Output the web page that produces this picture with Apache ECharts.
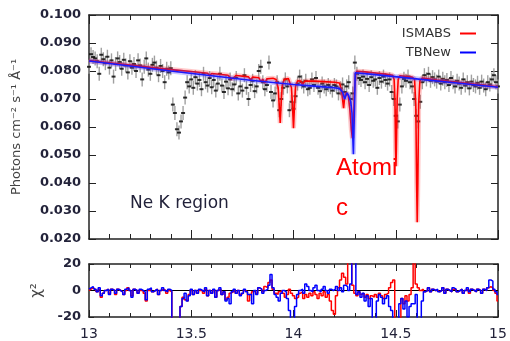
<!DOCTYPE html>
<html><head><meta charset="utf-8">
<script src="https://cdn.jsdelivr.net/npm/echarts@6/dist/echarts.min.js"></script>
<style>html,body{margin:0;padding:0;background:#fff}#c{width:510px;height:341px}</style>
</head><body><div id="c"></div>
<script>
// ---- data ----
const binStart = 13.00, binStep = 0.01;
const obsFlux = [
0.0815,0.0860,0.0850,0.0845,0.0835,0.0790,0.0858,0.0842,0.0828,0.0851,
0.0812,0.0838,0.0780,0.0825,0.0845,0.0832,0.0808,0.0840,0.0820,0.0795,
0.0835,0.0812,0.0825,0.0800,0.0838,0.0820,0.0770,0.0815,0.0845,0.0805,
0.0790,0.0822,0.0830,0.0812,0.0785,0.0818,0.0800,0.0760,0.0808,0.0795,
0.0810,0.0680,0.0650,0.0592,0.0580,0.0620,0.0650,0.0705,0.0760,0.0745,
0.0770,0.0740,0.0778,0.0755,0.0768,0.0735,0.0790,0.0760,0.0748,0.0775,
0.0742,0.0768,0.0730,0.0755,0.0790,0.0748,0.0725,0.0762,0.0738,0.0770,
0.0735,0.0752,0.0775,0.0720,0.0745,0.0730,0.0785,0.0740,0.0700,0.0750,
0.0765,0.0728,0.0745,0.0800,0.0815,0.0760,0.0735,0.0750,0.0830,0.0725,
0.0695,0.0720,0.0760,0.0660,0.0700,0.0740,0.0770,0.0745,0.0660,0.0690,
0.0665,0.0710,0.0755,0.0780,0.0760,0.0745,0.0765,0.0735,0.0740,0.0770,
0.0750,0.0775,0.0740,0.0728,0.0755,0.0745,0.0735,0.0750,0.0742,0.0730,
0.0750,0.0745,0.0720,0.0738,0.0752,0.0725,0.0745,0.0760,0.0700,0.0720,
0.0830,0.0790,0.0775,0.0768,0.0780,0.0760,0.0772,0.0750,0.0778,0.0765,
0.0770,0.0740,0.0775,0.0762,0.0780,0.0768,0.0755,0.0770,0.0725,0.0700,
0.0640,0.0620,0.0680,0.0745,0.0772,0.0765,0.0780,0.0760,0.0745,0.0700,
0.0640,0.0620,0.0690,0.0760,0.0785,0.0770,0.0790,0.0765,0.0778,0.0770,
0.0762,0.0780,0.0755,0.0772,0.0760,0.0768,0.0750,0.0775,0.0760,0.0745,
0.0765,0.0755,0.0740,0.0770,0.0748,0.0760,0.0738,0.0762,0.0750,0.0745,
0.0758,0.0740,0.0762,0.0748,0.0735,0.0760,0.0752,0.0770,0.0785,0.0760,
0.0745];
const obsErr = 0.0025;

const ismabsX = [13.00,13.10,13.20,13.30,13.40,13.50,13.58,13.59,13.60,13.68,13.695,13.70,13.705,13.72,13.78,13.79,13.80,13.83,13.84,13.85,13.86,13.87,13.90,13.915,13.925,13.93,13.935,13.94,13.945,13.955,13.975,13.99,13.995,14.00,14.005,14.01,14.02,14.035,14.045,14.055,14.10,14.15,14.20,14.225,14.235,14.245,14.25,14.258,14.268,14.276,14.283,14.288,14.293,14.298,14.303,14.31,14.35,14.40,14.45,14.485,14.492,14.496,14.499,14.501,14.503,14.507,14.512,14.52,14.58,14.592,14.598,14.602,14.605,14.608,14.612,14.618,14.63,14.70,14.80,14.90,15.00];
const ismabsY = [0.0837,0.0829,0.0821,0.0813,0.0805,0.0798,0.0792,0.0783,0.0791,0.0785,0.0772,0.0765,0.0775,0.0784,0.0779,0.0768,0.0778,0.0776,0.0762,0.0770,0.0758,0.0772,0.0774,0.0770,0.0740,0.0680,0.0614,0.0690,0.0750,0.0770,0.0773,0.0740,0.0680,0.0596,0.0680,0.0745,0.0765,0.0764,0.0752,0.0764,0.0764,0.0762,0.0760,0.0757,0.0730,0.0667,0.0705,0.0722,0.0712,0.0660,0.0590,0.0560,0.0620,0.0720,0.0790,0.0799,0.0797,0.0793,0.0789,0.0785,0.0770,0.0700,0.0520,0.0460,0.0520,0.0700,0.0770,0.0783,0.0778,0.0770,0.0680,0.0400,0.0260,0.0400,0.0680,0.0765,0.0775,0.0768,0.0760,0.0752,0.0744];

const tbnewX = [13.00,13.20,13.40,13.60,13.80,14.00,14.10,14.20,14.225,14.24,14.25,14.256,14.262,14.27,14.28,14.286,14.29,14.293,14.299,14.302,14.40,14.60,14.80,15.00];
const tbnewY = [0.0836,0.0818,0.0800,0.0783,0.0766,0.0752,0.0746,0.0740,0.0737,0.0725,0.0700,0.0696,0.0722,0.0712,0.0690,0.0650,0.0560,0.0503,0.0503,0.0794,0.0787,0.0772,0.0757,0.0742];

const residIsmabs = [
0,1,2,1,-1,1,-5,-2,0,1,
-2,1,0,-3,1,0,-1,-3,0,2,
0,-4,1,0,-2,0,0,-2,-8,0,
1,-1,0,1,-3,0,1,0,-2,0,
-1,-25,-25,-25,-25,-12,-5,-7,-8,-3,
0,-3,0,-2,0,0,-2,1,-4,0,
-2,0,-5,0,1,-3,-1,-7,-5,-2,
-1,0,-2,0,-3,-2,0,-1,-8,-3,
-1,0,-2,2,1,-1,3,2,6,8,
1,-2,-3,-1,0,-2,-5,-3,1,-2,
-4,-6,-5,-2,-1,-6,-3,-5,-2,-4,
-1,-3,-6,-2,-4,-1,-5,-3,-8,-15,
-18,-4,2,8,13,10,5,25,25,4,
-2,-4,-1,-3,-2,-5,-3,-6,-4,-5,
-3,-5,-2,-4,-6,-3,-2,2,6,8,
-25,-25,-25,-6,-10,-4,-8,-3,2,25,
5,2,0,1,-1,0,2,-1,1,0,
0,-1,0,2,-2,1,0,-1,1,1,
-1,0,1,-2,0,1,-2,1,0,-1,
1,0,-2,1,0,2,3,2,0,-2,
-8];
const residTbnew = [
1,2,3,1,-1,2,-4,-2,0,1,
-3,1,0,-2,1,0,-1,-3,1,2,
0,-5,1,0,-2,1,0,-1,-7,1,
2,-1,0,1,-3,0,2,0,-1,1,
0,-25,-25,-25,-25,-12,-6,-2,-8,-4,
1,-3,0,-2,1,0,-1,2,-4,0,
-2,1,-5,0,2,-3,-1,-8,-6,-10,
-1,1,-2,0,-4,-2,1,-1,-3,-3,
-10,0,-3,2,1,-2,0,1,4,12,
2,-3,-5,-8,-2,0,-1,-6,-15,-25,
-25,-12,-3,0,1,-2,5,3,0,-1,
2,4,0,-1,1,3,0,-2,1,0,
1,3,0,2,-1,4,3,0,5,25,
25,-3,-1,-5,-2,-8,-4,-12,-6,-25,
-25,-8,-3,-5,-10,-6,-4,-12,-15,-25,
-25,-25,-10,-6,-14,-8,-20,-12,-10,-10,
-3,-25,-25,-8,-1,0,2,-1,1,0,
1,-1,0,2,-2,1,0,-1,2,1,
-1,0,1,-2,0,2,-1,1,0,-1,
1,0,-2,1,0,2,8,7,1,-1,
-3];
const xTickLabels = ['13','13.5','14','14.5','15'];

// ---- build ----
const binX = obsFlux.map((_, i) => +(binStart + i * binStep).toFixed(2));
const obsPts = binX.map((x, i) => [x, obsFlux[i]]);
const errPts = binX.map((x, i) => [x, obsFlux[i], obsErr]);
const ismabsPts = ismabsX.map((x, i) => [x, ismabsY[i]]);
const tbnewPts = tbnewX.map((x, i) => [x, tbnewY[i]]);
const resIPts = binX.map((x, i) => [x, residIsmabs[i]]);
const resTPts = binX.map((x, i) => [x, residTbnew[i]]);

const FONT = 'DejaVu Sans';
const axisCol = '#222';
const lblCol = '#23233a';

function xAx(grid, pos, showLbl, majLen, minLen) {
  return {
    type: 'value', gridIndex: grid, position: pos, min: 13, max: 15, interval: 0.5,
    axisLine: { show: true, onZero: false, lineStyle: { color: axisCol, width: 1.5 } },
    axisTick: { show: true, inside: true, length: majLen, lineStyle: { color: axisCol, width: 1 } },
    minorTick: { show: true, splitNumber: 5, length: minLen, lineStyle: { color: axisCol, width: 1 } },
    splitLine: { show: false }, minorSplitLine: { show: false },
    axisLabel: showLbl ? { show: true, margin: 10, fontSize: 14, fontFamily: FONT, color: lblCol,
      formatter: v => { const i = Math.round((v - 13) / 0.5); return xTickLabels[i] || ''; } } : { show: false }
  };
}
function yAx(grid, pos, min, max, interval, showLbl, fmt, tickLen) {
  return {
    type: 'value', gridIndex: grid, position: pos, min, max, interval,
    axisLine: { show: true, onZero: false, lineStyle: { color: axisCol, width: 1.5 } },
    axisTick: { show: true, inside: true, length: tickLen, lineStyle: { color: axisCol, width: 1 } },
    splitLine: { show: false },
    axisLabel: showLbl ? { show: true, margin: 8, fontSize: 13, fontFamily: FONT, fontWeight: 'bold', color: lblCol, formatter: fmt } : { show: false }
  };
}

const chart = echarts.init(document.getElementById('c'), null, { renderer: 'canvas' });
const yTop = yAx(0, 'left', 0.02, 0.1, 0.01, true, v => v.toFixed(3), 7);
yTop.name = 'Photons cm\u207B\u00B2 s\u207B\u00B9 \u00C5\u207B\u00B9';
yTop.nameLocation = 'middle'; yTop.nameGap = 66; yTop.nameRotate = 90;
yTop.nameTextStyle = { fontSize: 13, fontFamily: FONT, color: '#444' };
const yBot = yAx(1, 'left', -20, 20, 20, true, v => String(v), 5);
yBot.name = '\u03C7\u00B2'; yBot.nameLocation = 'middle'; yBot.nameGap = 44; yBot.nameRotate = 90;
yBot.nameTextStyle = { fontSize: 15, fontFamily: FONT, color: '#444' };

chart.setOption({
  animation: false,
  backgroundColor: '#fff',
  grid: [
    { left: 89, right: 12, top: 15, height: 224 },
    { left: 89, right: 12, top: 264, height: 53 }
  ],
  xAxis: [xAx(0, 'bottom', false, 9, 5), xAx(0, 'top', false, 9, 5), xAx(1, 'bottom', true, 7, 4), xAx(1, 'top', false, 7, 4)],
  yAxis: [yTop, yAx(0, 'right', 0.02, 0.1, 0.01, false, null, 7), yBot, yAx(1, 'right', -20, 20, 20, false, null, 5)],
  legend: {
    data: ['ISMABS', 'TBNew'], orient: 'vertical', right: 29, top: 22, align: 'right',
    icon: 'rect', itemWidth: 16, itemHeight: 2, itemGap: 6,
    textStyle: { fontSize: 13, fontFamily: FONT, color: '#333', padding: [0, 4, 0, 0] }
  },
  graphic: [
    { type: 'text', left: 130, top: 195, z: 100, style: { text: 'Ne K region', font: '17px "DejaVu Sans"', fill: '#22223a' } },
    { type: 'text', left: 336, top: 156, z: 100, style: { text: 'Atomi', font: '24px "Liberation Sans"', fill: '#ff0000' } },
    { type: 'text', left: 336, top: 196, z: 100, style: { text: 'c', font: '24px "Liberation Sans"', fill: '#ff0000' } }
  ],
  series: [
    {
      type: 'custom', name: 'errors', xAxisIndex: 0, yAxisIndex: 0, data: errPts, z: 1,
      renderItem: (params, api) => {
        const x = api.value(0), y = api.value(1), e = api.value(2);
        const p1 = api.coord([x, y - e]), p2 = api.coord([x, y + e]);
        return { type: 'line', shape: { x1: p1[0], y1: p1[1], x2: p2[0], y2: p2[1] }, style: { stroke: '#a0a0a0', lineWidth: 1.4 } };
      }
    },
    { type: 'scatter', name: 'data', xAxisIndex: 0, yAxisIndex: 0, data: obsPts, symbol: 'rect', symbolSize: [4, 2], itemStyle: { color: '#000' }, z: 2 },
    { type: 'line', name: 'ISMABS band', xAxisIndex: 0, yAxisIndex: 0, data: ismabsPts, showSymbol: false, lineStyle: { color: 'rgba(255,60,60,0.28)', width: 5 }, z: 3 },
    { type: 'line', name: 'ISMABS', xAxisIndex: 0, yAxisIndex: 0, data: ismabsPts, showSymbol: false, itemStyle: { color: '#ff0000' }, lineStyle: { color: '#ff0000', width: 1.6 }, z: 4 },
    { type: 'line', name: 'TBNew band', xAxisIndex: 0, yAxisIndex: 0, data: tbnewPts, showSymbol: false, lineStyle: { color: 'rgba(60,60,255,0.28)', width: 5 }, z: 5 },
    { type: 'line', name: 'TBNew', xAxisIndex: 0, yAxisIndex: 0, data: tbnewPts, showSymbol: false, itemStyle: { color: '#0000ff' }, lineStyle: { color: '#1a1aff', width: 1.6 }, z: 6 },
    { type: 'line', name: 'zero', xAxisIndex: 2, yAxisIndex: 2, data: [[13, 0], [15, 0]], showSymbol: false, lineStyle: { color: '#000', width: 1.2 }, z: 3 },
    { type: 'line', name: 'resI', xAxisIndex: 2, yAxisIndex: 2, data: resIPts, step: 'middle', showSymbol: false, lineStyle: { color: '#ff0000', width: 1.5 }, z: 4 },
    { type: 'line', name: 'resT', xAxisIndex: 2, yAxisIndex: 2, data: resTPts, step: 'middle', showSymbol: false, lineStyle: { color: '#0000ff', width: 1.5 }, z: 5 }
  ]
});
</script></body></html>
